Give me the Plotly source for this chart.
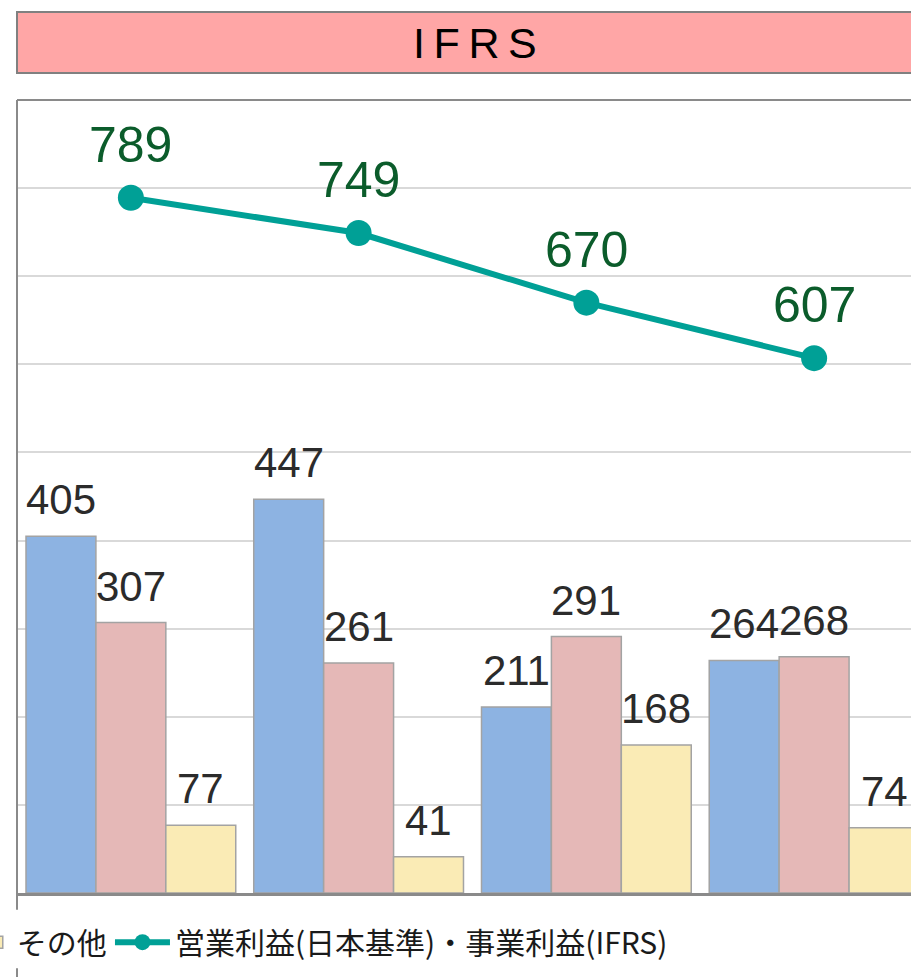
import plotly.graph_objects as go

categories = ["期間1", "期間2", "期間3", "期間4"]
series_a = [405, 447, 211, 264]
series_b = [307, 261, 291, 268]
series_other = [77, 41, 168, 74]
profit = [789, 749, 670, 607]

name_a = "セグメントA"
name_b = "セグメントB"
name_other = "その他"
name_line = "営業利益(日本基準)・事業利益(IFRS)"
header_text = "I\u2009F\u2009R\u2009S"

blue = "#8DB3E2"
pink = "#E5B8B7"
yellow = "#FAEBB5"
teal = "#00A096"
green_txt = "#0B5C2B"
label_col = "#2B2B2B"
edge = "#A3A3A3"

bargap = 0.079
n_series = 3

fig = go.Figure()
for vals, col, nm, show in [(series_a, blue, name_a, False),
                            (series_b, pink, name_b, False),
                            (series_other, yellow, name_other, True)]:
    fig.add_trace(go.Bar(x=categories, y=vals, name=nm, showlegend=show, legend="legend",
                         marker=dict(color=col, line=dict(color=edge, width=1.5))))

fig.add_trace(go.Scatter(x=categories, y=profit, name=name_line, mode="lines+markers",
                         legend="legend2",
                         line=dict(color=teal, width=6),
                         marker=dict(color=teal, size=26)))

annotations = []
bw = (1 - bargap) / n_series
for si, vals in enumerate([series_a, series_b, series_other]):
    for ci, v in enumerate(vals):
        annotations.append(dict(x=ci + (si - 1) * bw, y=v, xref="x", yref="y",
                                text=str(v), showarrow=False, yanchor="bottom",
                                yshift=11,
                                font=dict(family="Liberation Sans, Arial", size=42,
                                          color=label_col)))
for ci, v in enumerate(profit):
    annotations.append(dict(x=ci, y=v, xref="x", yref="y", text=str(v),
                            showarrow=False, yanchor="bottom", yshift=23,
                            font=dict(family="Liberation Sans, Arial", size=50,
                                      color=green_txt)))
annotations.append(dict(x=0.512, y=1.072, xref="paper", yref="paper", text=header_text,
                        showarrow=False, xanchor="center", yanchor="middle",
                        font=dict(family="Liberation Sans, Arial", size=43, color="#000000")))

shapes = [
    dict(type="rect", xref="paper", yref="paper", x0=0, x1=1.02, y0=1.034, y1=1.111,
         fillcolor="#FFA6A6", line=dict(color="#808080", width=2), layer="above"),
    dict(type="line", xref="paper", yref="paper", x0=0, x1=1.02, y0=1, y1=1,
         line=dict(color="#8A8A8A", width=2)),
    dict(type="line", xref="paper", yref="paper", x0=0, x1=0, y0=1, y1=-0.021,
         line=dict(color="#8A8A8A", width=2)),
    dict(type="line", xref="paper", yref="paper", x0=0, x1=0, y0=-0.095, y1=-0.12,
         line=dict(color="#8A8A8A", width=2)),
]

legend_font = dict(family="Noto Sans CJK JP", size=30, color="#1A1A1A")

fig.update_layout(
    width=911, height=977,
    margin=dict(l=17, r=0, t=100, b=84, autoexpand=False),
    paper_bgcolor="white", plot_bgcolor="white",
    barmode="group", bargap=bargap, bargroupgap=0,
    xaxis=dict(range=[-0.5, 3 + 97 / 228], showticklabels=False, showgrid=False,
               showline=True, linecolor="#8A8A8A", linewidth=2.5, ticks="",
               zeroline=False, type="category"),
    yaxis=dict(range=[0, 900], dtick=100, showticklabels=False, showgrid=True,
               gridcolor="#D9D9D9", gridwidth=1.5, showline=False, zeroline=False,
               ticks=""),
    showlegend=True,
    legend=dict(orientation="h", x=-0.045, xanchor="left", y=-0.062, yanchor="middle",
                font=legend_font, itemwidth=30, bgcolor="rgba(0,0,0,0)"),
    legend2=dict(orientation="h", x=0.104, xanchor="left", y=-0.062, yanchor="middle",
                 font=legend_font, itemwidth=55, bgcolor="rgba(0,0,0,0)"),
    annotations=annotations,
    shapes=shapes,
)

fig.write_html("out.html", config={"displayModeBar": False},
               post_script="document.body.style.margin='0';document.body.style.overflow='hidden';")
